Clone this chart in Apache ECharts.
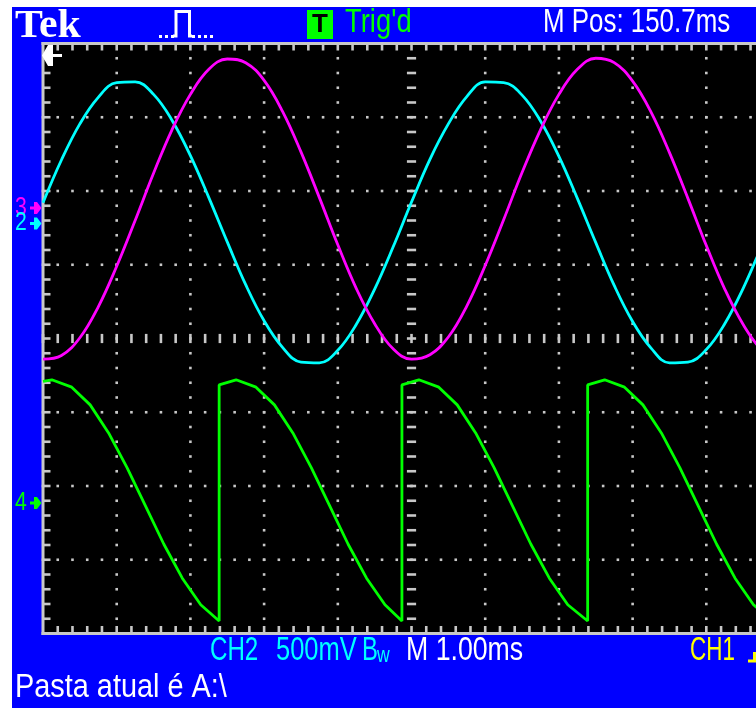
<!DOCTYPE html>
<html><head><meta charset="utf-8">
<script src="https://cdn.jsdelivr.net/npm/echarts@6/dist/echarts.min.js"></script>
<style>html,body{margin:0;padding:0;background:#fff}#c{width:756px;height:708px}</style>
</head><body><div id="c"></div>
<script>
// ---- data (time in ms, amplitude in divisions) ----
const timeMs = [0,0.25,0.5,0.75,1,1.25,1.5,1.75,2,2.25,2.5,2.75,3,3.25,3.5,3.75,4,4.25,4.5,4.75,5,5.25,5.5,5.75,6,6.25,6.5,6.75,7,7.25,7.5,7.75,8,8.25,8.5,8.75,9,9.25,9.5,9.75,10];
const ch2 = [1.84,2.42,2.91,3.27,3.47,3.48,3.31,2.96,2.48,1.91,1.31,0.73,0.24,-0.12,-0.32,-0.33,-0.16,0.19,0.67,1.24,1.85,2.43,2.91,3.28,3.48,3.47,3.30,2.95,2.47,1.90,1.30,0.72,0.23,-0.13,-0.33,-0.32,-0.15,0.20,0.68,1.25,1.84];
const ch3 = [-0.28,-0.23,0.01,0.43,0.98,1.60,2.24,2.83,3.31,3.65,3.79,3.74,3.50,3.08,2.53,1.91,1.27,0.68,0.20,-0.14,-0.28,-0.22,0.02,0.44,0.99,1.61,2.25,2.83,3.31,3.65,3.80,3.74,3.49,3.07,2.52,1.90,1.26,0.67,0.19,-0.15,-0.28];
const ch4Time = [0,0.12,0.39,0.64,0.89,1.14,1.39,1.64,1.89,2.14,2.39,2.39,2.62,2.89,3.14,3.39,3.64,3.89,4.14,4.39,4.64,4.87,4.87,5.10,5.37,5.62,5.87,6.12,6.37,6.62,6.87,7.12,7.39,7.39,7.62,7.89,8.14,8.39,8.64,8.89,9.14,9.39,9.64,9.89,9.89,10];
const ch4 = [-0.58,-0.56,-0.66,-0.90,-1.28,-1.75,-2.27,-2.79,-3.25,-3.61,-3.83,-0.63,-0.56,-0.66,-0.90,-1.28,-1.75,-2.27,-2.79,-3.25,-3.61,-3.83,-0.63,-0.56,-0.66,-0.90,-1.28,-1.75,-2.27,-2.79,-3.25,-3.61,-3.83,-0.63,-0.56,-0.66,-0.90,-1.28,-1.75,-2.27,-2.79,-3.25,-3.61,-3.83,-0.63,-0.58];
const markerLabels = ['3','2','4'];
const markerLevels = [1.77,1.56,-2.23];
const headerTexts = ['Tek','T',"Trig'd",'M Pos: 150.7ms'];
const footerTexts = ['CH2','500mV','B','w','M 1.00ms','CH1','Pasta atual é A:\\'];
const visibleTimeMs = 9.674; // the screen shows 0 .. 9.67 ms of the 10 ms record (right edge cut off)

// ---- styles ----
const CYAN = '#00ffff', MAGENTA = '#ff00ff', GREEN = '#00ff00', YELLOW = '#ffff00', GRAY = '#c8c8c8', BLUE = '#0000ff';
const markerColors = [MAGENTA, CYAN, GREEN];

function graticule(params, api) {
  const kids = [];
  const P = (x, y) => api.coord([x, y]);
  const box = (x, y, w, h, fill) => kids.push({type: 'rect', shape: {x: x, y: y, width: w, height: h}, style: {fill: fill || GRAY}});
  const XM = visibleTimeMs;
  const tl = P(0, 4), br = P(XM, -4);
  box(tl[0], tl[1], br[0] - tl[0] + 2, br[1] - tl[1], '#000');
  const D = 2.6, h = D / 2;
  for (let i = 1; i <= 9; i++) {
    for (let j = 0; j <= 40; j++) {
      const p = P(i, -4 + j / 5);
      if (i === 5) box(p[0] - 4.6, p[1] - h, 9.2, D);
      else box(p[0] - h, p[1] - h, D, D);
    }
  }
  for (let k = -3; k <= 3; k++) {
    for (let j = 0; j / 5 <= XM; j++) {
      const p = P(j / 5, k);
      if (k === 0) box(p[0] - h, p[1] - 4.6, D, 9.2);
      else box(p[0] - h, p[1] - h, D, D);
    }
  }
  for (let j = 1; j / 5 <= XM; j++) {
    const t = P(j / 5, 4), b = P(j / 5, -4);
    box(t[0] - h, t[1], D, 7);
    box(b[0] - h, b[1] - 7.5, D, 7.5);
  }
  for (let j = 1; j < 40; j++) {
    const l = P(0, -4 + j / 5);
    box(l[0], l[1] - h, 7.5, D);
  }
  box(tl[0] - 1.5, tl[1] - 1.5, 3, br[1] - tl[1] + 3);
  box(tl[0] - 1.5, tl[1] - 1.5, br[0] - tl[0] + 4, 3);
  box(tl[0] - 1.5, br[1] - 1.5, br[0] - tl[0] + 4, 3);
  return {type: 'group', children: kids};
}

const chart = echarts.init(document.getElementById('c'), null, {renderer: 'canvas'});
chart.setOption({
  animation: false,
  backgroundColor: BLUE,
  grid: {left: 43, top: 43.5, right: 0, height: 590, show: false},
  xAxis: {type: 'value', min: 0, max: visibleTimeMs, interval: 1, show: false},
  yAxis: {type: 'value', min: -4, max: 4, interval: 1, show: false},
  series: [
    {type: 'custom', renderItem: graticule, data: [[0, 0]], silent: true, z: 1, clip: false},
    {type: 'line', name: 'CH2', data: timeMs.map((t, i) => [t, ch2[i]]), showSymbol: false, smooth: 0.4,
     lineStyle: {color: CYAN, width: 2.8}, itemStyle: {color: CYAN}, z: 3},
    {type: 'line', name: 'CH3', data: timeMs.map((t, i) => [t, ch3[i]]), showSymbol: false, smooth: 0.4,
     lineStyle: {color: MAGENTA, width: 2.8}, itemStyle: {color: MAGENTA}, z: 4},
    {type: 'line', name: 'CH4', data: ch4Time.map((t, i) => [t, ch4[i]]), showSymbol: false, smooth: false,
     lineStyle: {color: GREEN, width: 2.8}, itemStyle: {color: GREEN}, z: 5}
  ]
});

function txt(text, x, y, font, fill, sx, align) {
  return {type: 'text', x: x, y: y, scaleX: sx || 1, z: 50,
    style: {text: text, fill: fill, font: font, textAlign: align || 'left', textVerticalAlign: 'middle', verticalAlign: 'middle'}};
}
const SANS = '"Liberation Sans", Arial, sans-serif';
const graphics = [
  {type: 'rect', shape: {x: 0, y: 0, width: 756, height: 7}, style: {fill: '#fff'}, z: 60},
  {type: 'rect', shape: {x: 0, y: 0, width: 12, height: 708}, style: {fill: '#fff'}, z: 60},
  txt(headerTexts[0], 15, 26, 'bold 41px "Liberation Serif", serif', '#fff', 1.02),
  {type: 'polyline', shape: {points: [[173, 36], [176, 36], [176, 11.5], [189.5, 11.5], [189.5, 36], [192, 36]]}, style: {stroke: '#fff', lineWidth: 3, fill: 'none'}, z: 50},
  {type: 'polyline', shape: {points: [[159, 36.5], [174, 36.5]]}, style: {stroke: '#fff', lineWidth: 3, lineDash: [3, 3], fill: 'none'}, z: 50},
  {type: 'polyline', shape: {points: [[192, 36.5], [213, 36.5]]}, style: {stroke: '#fff', lineWidth: 3, lineDash: [3, 3], fill: 'none'}, z: 50},
  {type: 'rect', shape: {x: 307, y: 10, width: 26, height: 29}, style: {fill: GREEN}, z: 50},
  txt(headerTexts[1], 320, 24.5, 'bold 26px ' + SANS, '#000', 1, 'center'),
  txt(headerTexts[2], 345, 23, '33px ' + SANS, GREEN, 0.83),
  txt(headerTexts[3], 543, 23, '33px ' + SANS, '#fff', 0.785),
  txt(footerTexts[0], 210, 651, '34px ' + SANS, CYAN, 0.71),
  txt(footerTexts[1], 276, 651, '34px ' + SANS, CYAN, 0.75),
  txt(footerTexts[2], 362, 651, '34px ' + SANS, CYAN, 0.7),
  txt(footerTexts[3], 377, 656, '22px ' + SANS, CYAN, 0.8),
  txt(footerTexts[4], 406, 651, '34px ' + SANS, '#fff', 0.785),
  txt(footerTexts[5], 690, 651, '34px ' + SANS, YELLOW, 0.66),
  {type: 'polyline', shape: {points: [[748, 661], [754.5, 661], [754.5, 652]]}, style: {stroke: YELLOW, lineWidth: 3, fill: 'none'}, z: 50},
  txt(footerTexts[6], 15, 688, '33px ' + SANS, '#fff', 0.875),
  {type: 'polygon', shape: {points: [[42, 55.5], [48, 45], [53, 45], [53, 54], [62, 54], [62, 57], [53, 57], [53, 66], [48, 66]]}, style: {fill: '#fff'}, z: 50}
];
markerLabels.forEach((lab, i) => {
  const p = chart.convertToPixel({gridIndex: 0}, [0, markerLevels[i]]);
  const y = p[1];
  graphics.push(txt(lab, 15, y, '25px ' + SANS, markerColors[i], 0.85));
  graphics.push({type: 'polygon', z: 50, shape: {points: [[30, y - 1.5], [34, y - 1.5], [34, y - 6], [37, y - 6], [41.5, y], [37, y + 6], [34, y + 6], [34, y + 1.5], [30, y + 1.5]]}, style: {fill: markerColors[i]}});
});
chart.setOption({graphic: graphics});
</script>
</body></html>
